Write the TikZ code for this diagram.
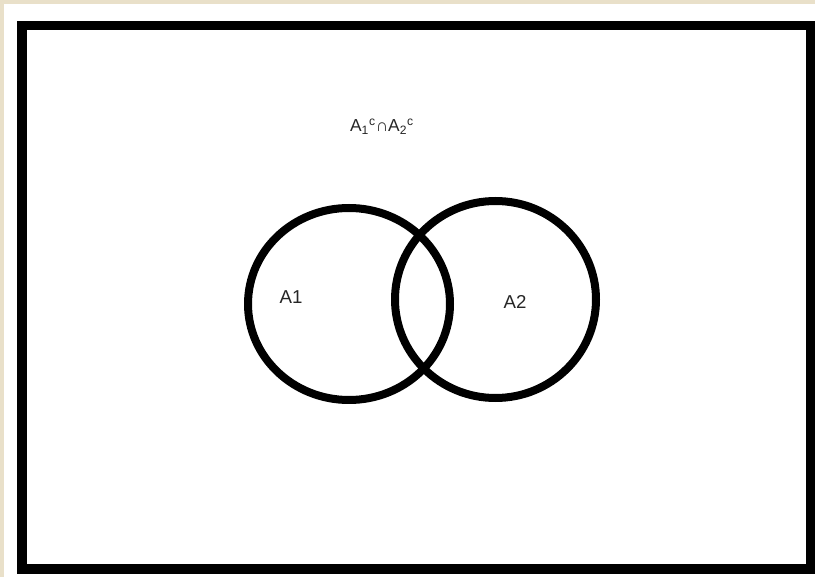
\documentclass[tikz,border=0pt]{standalone}
\usepackage{fontspec}
\setmainfont{Liberation Sans}
\usepackage{xcolor}
\usetikzlibrary{shapes.geometric, positioning}
\definecolor{paper}{HTML}{E9E0C9}

\begin{document}
\begin{tikzpicture}[
  x=0.75pt, y=-0.75pt,
  set/.style = {
    ellipse, draw=black, line width=6pt, inner sep=0pt
  },
  setname/.style = {
    font=\fontsize{14}{16}\selectfont, text=black!85
  },
  comp/.style = {
    font=\fontsize{13}{15}\selectfont, text=black!85, inner sep=0pt
  },
  frame/.style = {draw=black, line width=7pt}
]
  % page background and white sheet
  \fill[paper] (0,0) rectangle (815,577);
  \useasboundingbox (0,0) rectangle (815,577);
  \fill[white] (4,4) rectangle (815,577);

  % sample space
  \node[frame, minimum width=789*0.75pt, minimum height=543.5*0.75pt,
        inner sep=0pt] (omega) at (416.5,297.25) {};

  % the two events
  \node[set, minimum width=202*0.75pt, minimum height=192*0.75pt] (a1) at (349,304) {};
  \node[set, minimum width=201*0.75pt, minimum height=197*0.75pt] (a2) at (495.5,299.5) {};

  \node[setname] (a1name) at (291,297) {A1};
  \node[setname] (a2name) at (515,302) {A2};

  \node[comp] (outside) at (382,127)
    {A\textsubscript{1}\textsuperscript{c}∩A\textsubscript{2}\textsuperscript{c}};
\end{tikzpicture}
\end{document}
